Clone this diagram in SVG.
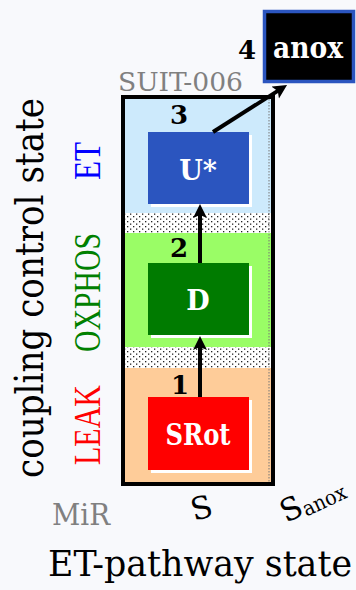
<svg xmlns="http://www.w3.org/2000/svg" width="356" height="590" viewBox="0 0 356 590">
<style>
.serif{font-family:'DejaVu Serif','Liberation Serif',serif}
.tim{font-family:'Liberation Serif','Times New Roman',serif}
.num{font-family:'DejaVu Serif','Liberation Serif',serif;font-weight:bold;font-size:26px;fill:#000}
.box{font-family:'DejaVu Serif','Liberation Serif',serif;font-weight:bold;fill:#fff;text-anchor:middle}
.arrow{stroke:#000;stroke-width:4;fill:none}
</style>
<defs>
<pattern id="dots" width="6" height="5" patternUnits="userSpaceOnUse">
<rect width="6" height="5" fill="#fff"/>
<rect x="1" y="1" width="1.3" height="1.3" fill="#222"/>
<rect x="4" y="3.5" width="1.3" height="1.3" fill="#222"/>
</pattern>
<marker id="ah" markerUnits="userSpaceOnUse" markerWidth="16" markerHeight="16" refX="4" refY="7" orient="auto">
<path d="M0,0 L14,7 L0,14 L3,7 z" fill="#000"/>
</marker>
</defs>
<rect width="356" height="590" fill="#f8f9fc"/>

<g id="bands">
<rect x="125" y="97" width="146" height="116" fill="#cdeafc"/>
<rect x="125" y="213" width="146" height="20" fill="url(#dots)"/>
<rect x="125" y="233" width="146" height="114" fill="#9afd66"/>
<rect x="125" y="347" width="146" height="21" fill="url(#dots)"/>
<rect x="125" y="368" width="146" height="116" fill="#fecc99"/>
<line x1="269" y1="99" x2="269" y2="482" stroke="#777" stroke-width="1" stroke-dasharray="1.5,1.5"/>
<rect x="123" y="97" width="150" height="387" fill="none" stroke="#000" stroke-width="4"/>
</g>

<text class="serif" x="118" y="91" font-size="26" fill="#808080" textLength="125" lengthAdjust="spacingAndGlyphs">SUIT-006</text>

<g id="node-U">
<rect x="151" y="135" width="101" height="72" fill="#fff"/>
<rect x="148" y="132" width="101" height="72" fill="#2b55bf"/>
<text class="box" x="198" y="180" font-size="27">U*</text>
</g>
<g id="node-D">
<rect x="151" y="266" width="101" height="72" fill="#fff"/>
<rect x="148" y="263" width="101" height="72" fill="#007b00"/>
<text class="box" x="198" y="310" font-size="27">D</text>
</g>
<g id="node-SRot">
<rect x="151" y="400" width="101" height="73" fill="#fff"/>
<rect x="148" y="397" width="101" height="73" fill="#ff0000"/>
<text class="box" x="198" y="445" font-size="29" textLength="65" lengthAdjust="spacingAndGlyphs">SRot</text>
</g>
<g id="node-anox">
<rect x="264.5" y="11.5" width="89" height="70" fill="#000" stroke="#2b55bf" stroke-width="3.5"/>
<text class="box" x="308" y="58" font-size="29" textLength="70" lengthAdjust="spacingAndGlyphs">anox</text>
</g>

<g id="connectors">
<line class="arrow" x1="200" y1="397" x2="200" y2="346" marker-end="url(#ah)"/>
<line class="arrow" x1="200" y1="263" x2="200" y2="214" marker-end="url(#ah)"/>
<line class="arrow" x1="213" y1="132" x2="278.6" y2="90.4" marker-end="url(#ah)"/>
</g>

<g id="numbers">
<text class="num" x="238" y="59">4</text>
<text class="num" x="170" y="124">3</text>
<text class="num" x="170" y="257">2</text>
<text class="num" x="171" y="394">1</text>
</g>

<g id="axis-labels">
<text class="serif" transform="translate(43,478) rotate(-90)" font-size="39" fill="#000" textLength="380" lengthAdjust="spacingAndGlyphs">coupling control state</text>
<text class="tim" transform="translate(100,180) rotate(-90) scale(1,1.25)" font-size="30" fill="#0000ff" textLength="38" lengthAdjust="spacingAndGlyphs">ET</text>
<text class="tim" transform="translate(100,352) rotate(-90) scale(1,1.25)" font-size="30" fill="#008000" textLength="119" lengthAdjust="spacingAndGlyphs">OXPHOS</text>
<text class="tim" transform="translate(100,465) rotate(-90) scale(1,1.25)" font-size="30" fill="#ff0000" textLength="80" lengthAdjust="spacingAndGlyphs">LEAK</text>
<text class="serif" x="52" y="525" font-size="29" fill="#808080" textLength="58" lengthAdjust="spacingAndGlyphs">MiR</text>
<text class="serif" transform="translate(194,521) rotate(-15)" font-size="31" fill="#000">S</text>
<text class="serif" transform="translate(286,523) rotate(-25)" font-size="31" fill="#000">S<tspan font-size="21" dy="3" textLength="46" lengthAdjust="spacingAndGlyphs">anox</tspan></text>
<text class="serif" x="48" y="576" font-size="35" fill="#000" textLength="304" lengthAdjust="spacingAndGlyphs">ET-pathway state</text>
</g>
</svg>
